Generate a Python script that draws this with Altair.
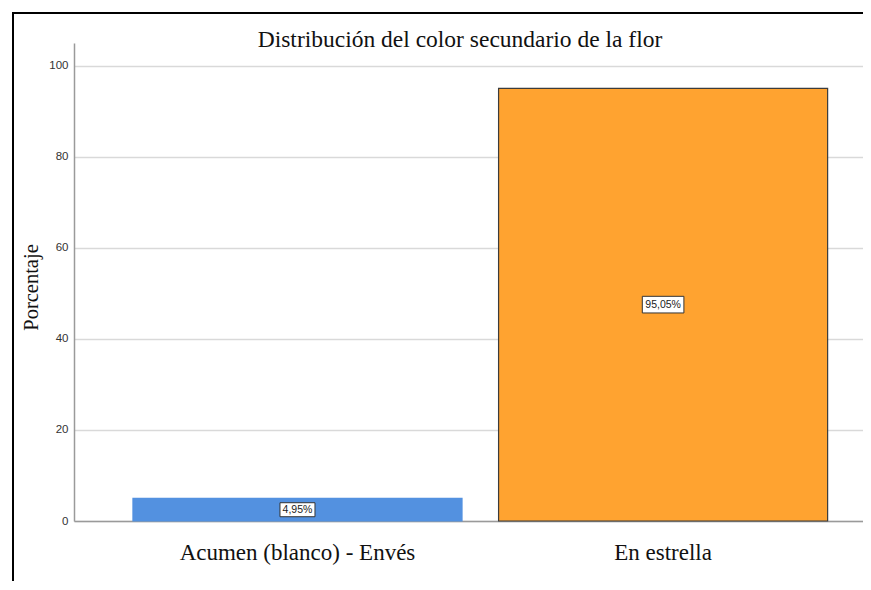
import altair as alt
import pandas as pd

categories = ["Acumen (blanco) - Envés", "En estrella"]
percentages = [4.95, 95.05]
labels = ["4,95%", "95,05%"]
bar_fills = ["#5391e0", "#ffa330"]
bar_strokes = ["#5391e0", "#3c3c3c"]
y_ticks = [0, 20, 40, 60, 80, 100]
title_text = "Distribución del color secundario de la flor"

df = pd.DataFrame({"cat": categories, "pct": percentages, "label": labels})

serif = "Liberation Serif"
sans = "Liberation Sans"

x_enc = alt.X("cat:N", sort=categories, title=None,
              scale=alt.Scale(paddingInner=0.1, paddingOuter=0.129, align=0.625),
              axis=alt.Axis(labelAngle=0, labelFont=serif, labelFontSize=23,
                            labelColor="#111", ticks=False, labelPadding=20, labelLimit=0,
                            domainColor="#9a9a9a", domainWidth=1.5))

bars = alt.Chart(df).mark_bar(strokeWidth=1.2).encode(
    x=x_enc,
    y=alt.Y("pct:Q", title="Porcentaje",
            scale=alt.Scale(domain=[0, 105], nice=False),
            axis=alt.Axis(values=y_ticks, labelFont=sans, labelFontSize=11.5,
                          labelColor="#333", ticks=False, labelPadding=6,
                          grid=True, gridColor="#d9d9d9", gridWidth=1.5,
                          domainColor="#9a9a9a", domainWidth=1.5,
                          titleFont=serif, titleFontSize=20.5, titleFontWeight="normal",
                          titleColor="#111", titleX=-43, titleY=244,
                          titleAngle=-90, titleAlign="center", titleBaseline="middle")),
    color=alt.Color("cat:N", scale=alt.Scale(domain=categories, range=bar_fills), legend=None),
    stroke=alt.Stroke("cat:N", scale=alt.Scale(domain=categories, range=bar_strokes), legend=None),
)

boxes = alt.Chart(df).transform_calculate(
    mid="datum.pct / 2",
    bsize="pow(length(datum.label) * 6.6 + 2, 2)"
).mark_point(
    shape="M-1,-0.4L1,-0.4L1,0.4L-1,0.4Z", filled=True, fill="white",
    stroke="#333", strokeWidth=1, opacity=1
).encode(
    x=alt.X("cat:N", sort=categories),
    y=alt.Y("mid:Q"),
    size=alt.Size("bsize:Q", scale=None, legend=None),
)

texts = alt.Chart(df).transform_calculate(
    mid="datum.pct / 2"
).mark_text(font=sans, fontSize=10.5, color="#222", baseline="middle", align="center").encode(
    x=alt.X("cat:N", sort=categories),
    y=alt.Y("mid:Q"),
    text="label:N",
)

frame_df = pd.DataFrame({"k": [0]})
title_mark = alt.Chart(pd.DataFrame({"t": [title_text]})).mark_text(
    font=serif, fontSize=23.5, color="#111", align="center", baseline="alphabetic"
).encode(x=alt.value(386), y=alt.value(4), text="t:N")

top_rule = alt.Chart(frame_df).mark_rule(color="black", strokeWidth=2).encode(
    x=alt.value(-61), x2=alt.value(900), y=alt.value(-30))
left_rule = alt.Chart(frame_df).mark_rule(color="black", strokeWidth=2).encode(
    x=alt.value(-61), y=alt.value(-31), y2=alt.value(600))

chart = alt.layer(bars, boxes, texts, title_mark, top_rule, left_rule).properties(
    width=789, height=478,
    background="white",
    autosize=alt.AutoSizeParams(type="none"),
    padding={"left": 66, "top": 35, "right": 0, "bottom": 60},
).configure_view(strokeOpacity=0, strokeWidth=0)

chart.save("out.html", embed_options={"renderer": "svg", "actions": False})
